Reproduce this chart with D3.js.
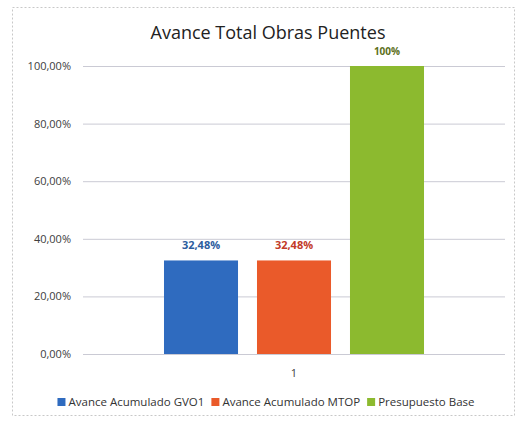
<!DOCTYPE html>
<html>
<head>
<meta charset="utf-8">
<script src="https://cdn.jsdelivr.net/npm/d3@7"></script>
<style>
  body { margin: 0; background: #fff; }
  text { font-family: "Open Sans", "Noto Sans", sans-serif; }
</style>
</head>
<body>
<svg id="svg" width="519" height="421"></svg>
<script>
const categories = ['1'];
const series = ['Avance Acumulado GVO1', 'Avance Acumulado MTOP', 'Presupuesto Base'];
const values = [0.3248, 0.3248, 1.0];
const valueLabels = ['32,48%', '32,48%', '100%'];
const tickValues = [0, 0.2, 0.4, 0.6, 0.8, 1.0];
const tickLabels = ['0,00%', '20,00%', '40,00%', '60,00%', '80,00%', '100,00%'];

const colors = ['#2f6bbf', '#ea5a2a', '#8cba2f'];
const labelColors = ['#2d5d9e', '#c23a28', '#5c7020'];

const svg = d3.select('#svg');

// chart frame
svg.append('rect')
  .attr('x', 12.5).attr('y', 7.5)
  .attr('width', 502).attr('height', 408)
  .attr('fill', '#fff')
  .attr('stroke', '#c8c8c8')
  .attr('stroke-dasharray', '2,2');

const margin = { left: 83, right: 505, top: 66, bottom: 354 };

const y = d3.scaleLinear().domain([0, 1]).range([margin.bottom, margin.top]);

const x0 = d3.scaleBand().domain(categories)
  .range([margin.left, margin.right])
  .paddingInner(0).paddingOuter(0.3115);

const x1 = d3.scaleBand().domain(series)
  .range([0, x0.bandwidth()])
  .paddingInner(0.204).paddingOuter(0);

// gridlines + tick labels
const yAxis = d3.axisLeft(y)
  .tickValues(tickValues)
  .tickSize(-(margin.right - margin.left))
  .tickFormat((d, i) => tickLabels[i]);

const gy = svg.append('g')
  .attr('transform', `translate(${margin.left},0)`)
  .call(yAxis);
gy.select('.domain').remove();
gy.selectAll('.tick line').attr('stroke', '#cacad4').attr('stroke-width', 1);
gy.selectAll('.tick text')
  .attr('x', -12)
  .attr('fill', '#404040')
  .style('font-size', '11px');

// category label
const xAxis = d3.axisBottom(x0).tickSize(0);
const gx = svg.append('g')
  .attr('transform', `translate(0,${margin.bottom})`)
  .call(xAxis);
gx.select('.domain').remove();
gx.selectAll('.tick text')
  .attr('dy', '1.8em')
  .attr('fill', '#404040')
  .style('font-size', '11px');

// bars
const barData = series.map((s, i) => ({ s, v: values[i], i }));

const group = svg.append('g')
  .selectAll('g')
  .data(categories)
  .enter()
  .append('g')
  .attr('transform', d => `translate(${x0(d)},0)`);

group.selectAll('rect')
  .data(barData)
  .enter()
  .append('rect')
  .attr('x', d => x1(d.s))
  .attr('y', d => y(d.v))
  .attr('width', x1.bandwidth())
  .attr('height', d => y(0) - y(d.v))
  .attr('fill', d => colors[d.i]);

group.selectAll('text.val')
  .data(barData)
  .enter()
  .append('text')
  .attr('class', 'val')
  .attr('x', d => x1(d.s) + x1.bandwidth() / 2)
  .attr('y', d => y(d.v) - 11)
  .attr('text-anchor', 'middle')
  .attr('fill', d => labelColors[d.i])
  .style('font-size', d => d.v >= 1 ? '10px' : '11px')
  .style('font-weight', 'bold')
  .text(d => valueLabels[d.i]);

// title
svg.append('text')
  .attr('x', 268).attr('y', 39)
  .attr('text-anchor', 'middle')
  .attr('fill', '#222')
  .style('font-size', '18px')
  .text('Avance Total Obras Puentes');

// legend, laid out from the measured text widths
const legend = svg.append('g');
const items = legend.selectAll('g')
  .data(series)
  .enter()
  .append('g');

items.append('rect')
  .attr('x', 0).attr('y', -8)
  .attr('width', 8).attr('height', 8)
  .attr('fill', (d, i) => colors[i]);

items.append('text')
  .attr('x', 11).attr('y', 0)
  .attr('fill', '#333')
  .style('font-size', '11.5px')
  .text(d => d);

let cx = 0;
items.each(function () {
  const w = d3.select(this).select('text').node().getComputedTextLength() + 11;
  d3.select(this).attr('transform', `translate(${cx},0)`);
  cx += w + 7;
});
const total = cx - 7;
legend.attr('transform', `translate(${266 - total / 2},406)`);
</script>
</body>
</html>
